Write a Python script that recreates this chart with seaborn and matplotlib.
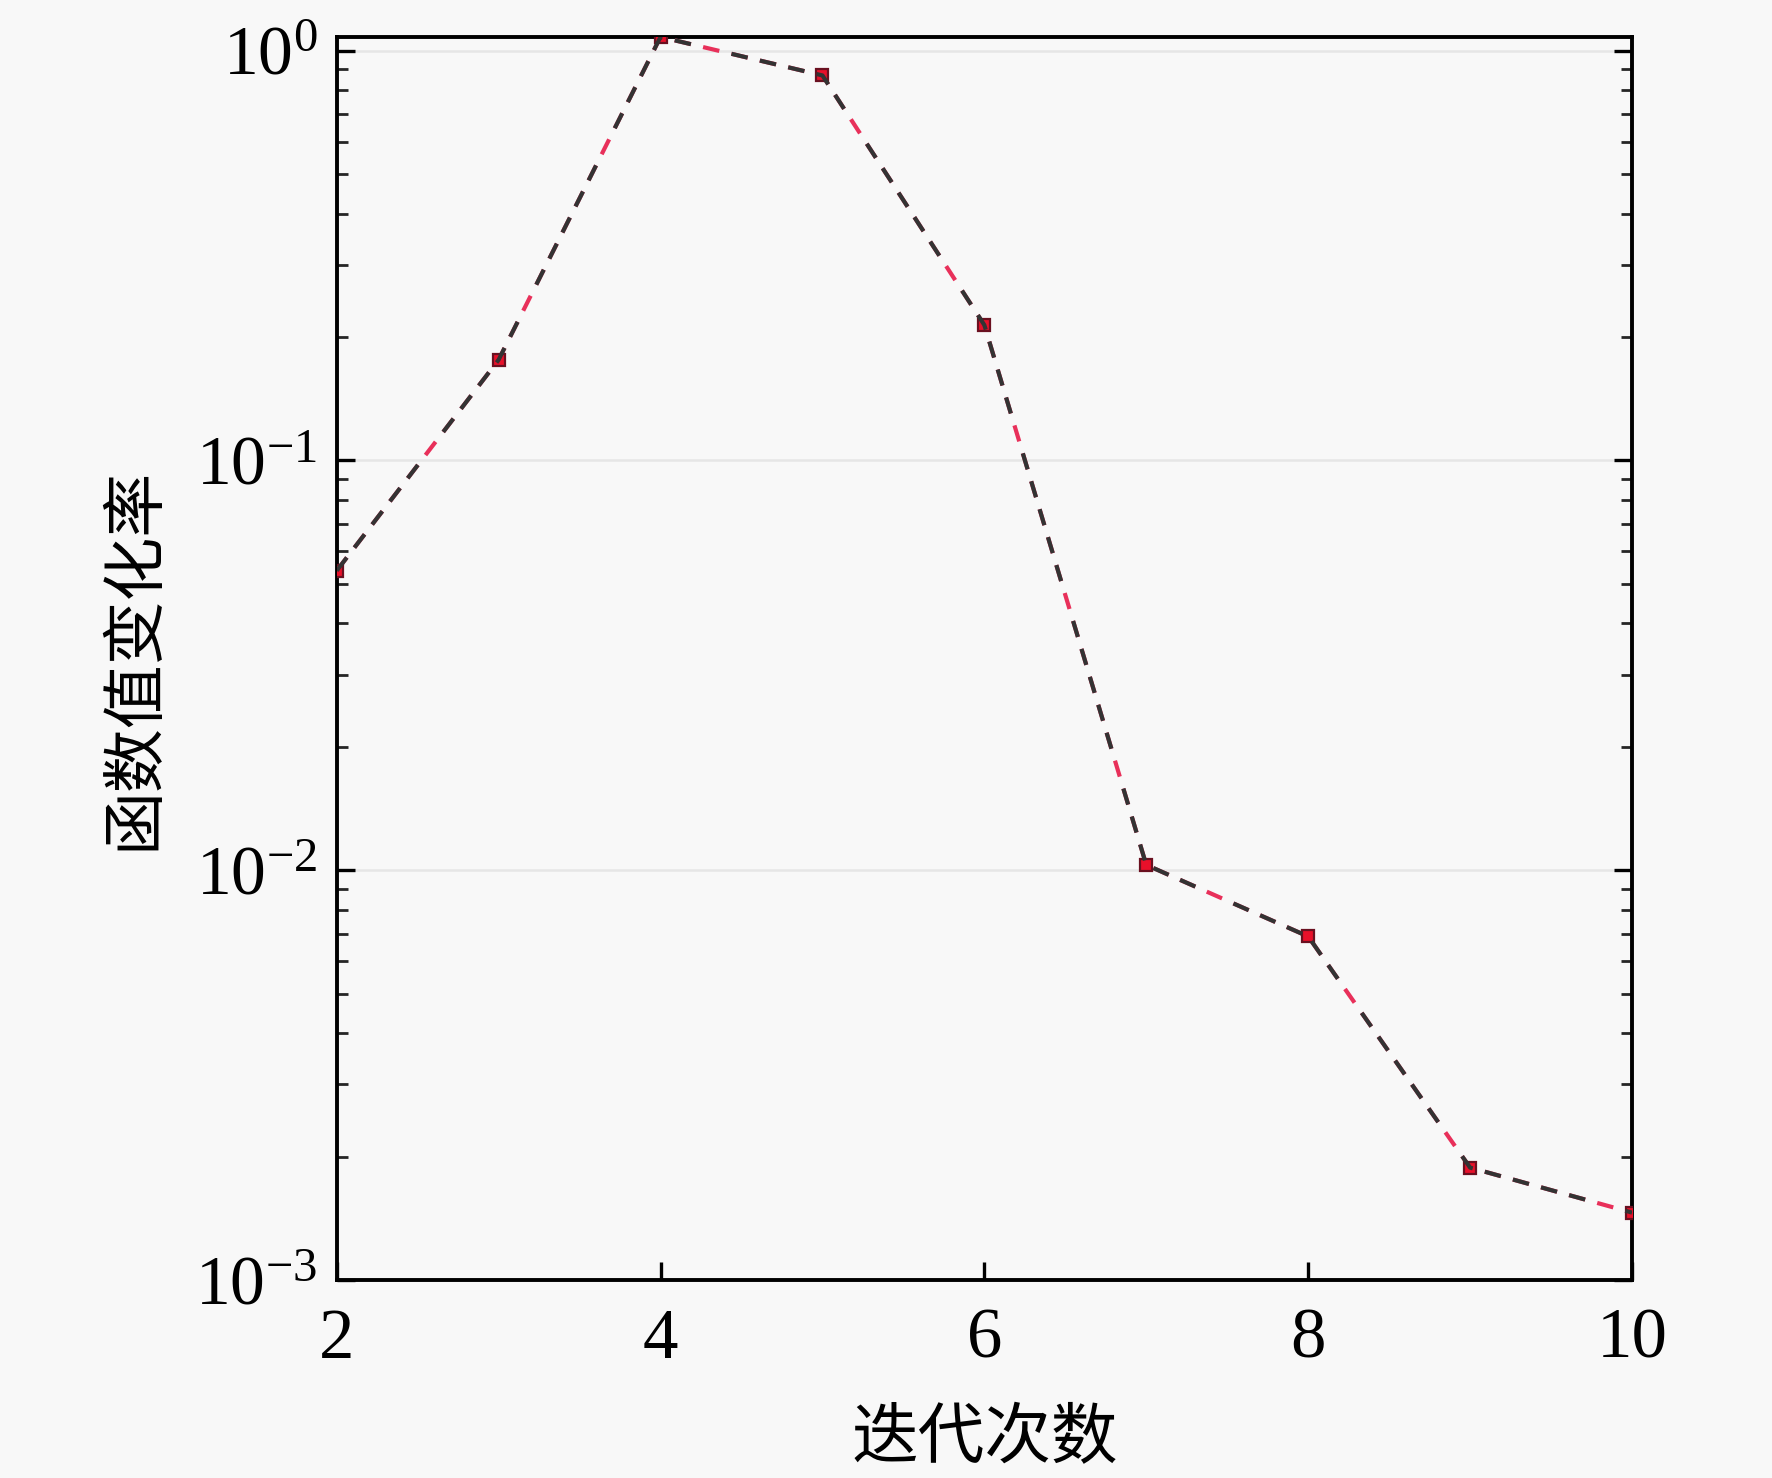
import numpy as np
import pandas as pd
import matplotlib
matplotlib.use("Agg")
import matplotlib.pyplot as plt
import seaborn as sns
from matplotlib.ticker import LogLocator, LogFormatterMathtext, FixedLocator

iterations = [2, 3, 4, 5, 6, 7, 8, 9, 10]
change_rate = [0.0538, 0.176, 1.08, 0.87, 0.214, 0.0103, 0.00689, 0.00188, 0.00146]
x_ticks = [2, 4, 6, 8, 10]
x_label = "迭代次数"
y_label = "函数值变化率"

df = pd.DataFrame({"iter": iterations, "rate": change_rate})

sns.set_theme(style="white")
plt.rcParams['font.family'] = ['Liberation Serif', 'Noto Sans CJK SC', 'DejaVu Sans']
plt.rcParams['mathtext.fontset'] = 'custom'
plt.rcParams['mathtext.rm'] = 'Liberation Serif'
plt.rcParams['mathtext.it'] = 'Liberation Serif:italic'
plt.rcParams['mathtext.bf'] = 'Liberation Serif:bold'

bg = '#f8f8f8'
fig = plt.figure(figsize=(8.86, 7.39), dpi=200, facecolor=bg)
ax = fig.add_axes([0.190, 0.134, 0.731, 0.841])
ax.set_facecolor(bg)

# red dashed underlay, black dashed overlay
sns.lineplot(data=df, x="iter", y="rate", ax=ax, color='#e8305a', lw=1.5,
             marker='s', markersize=4.5, markerfacecolor='#e8102a',
             markeredgecolor='#6a1020', markeredgewidth=0.8, zorder=3)
sns.lineplot(data=df, x="iter", y="rate", ax=ax, color='#333333', lw=1.5, zorder=4)
lines = ax.get_lines()
lines[0].set_dashes([4, 3])
lines[1].set_dashes([4, 3, 4, 3, 4, 3, 4, 3, 4, 10])

ax.set_yscale('log')
ax.set_xlim(2, 10)
ax.set_ylim(1e-3, 1.08)

ax.xaxis.set_major_locator(FixedLocator(x_ticks))
ax.yaxis.set_major_locator(LogLocator(base=10, numticks=10))
ax.yaxis.set_minor_locator(LogLocator(base=10, subs=np.arange(2, 10), numticks=10))
ax.yaxis.set_major_formatter(LogFormatterMathtext())

ax.yaxis.grid(True, which='major', color='#e6e6e6', lw=0.9)
ax.xaxis.grid(False)
ax.set_axisbelow(True)

for s in ax.spines.values():
    s.set_color('black')
    s.set_linewidth(1.4)

ax.tick_params(axis='x', which='major', direction='in', length=6.5, width=1.2,
               bottom=True, top=False, labelsize=25.5, pad=10, colors='black')
ax.tick_params(axis='y', which='major', direction='in', length=6.5, width=1.2,
               left=True, right=True, labelsize=25, pad=7, colors='black')
ax.tick_params(axis='y', which='minor', direction='in', length=4, width=1.0,
               left=True, right=True)
ax.tick_params(axis='x', which='minor', bottom=False, top=False)

ax.set_xlabel(x_label, fontsize=24, family=['Noto Sans CJK SC', 'DejaVu Sans'], labelpad=12, color='black')
ax.set_ylabel(y_label, fontsize=23, family=['Noto Sans CJK SC', 'DejaVu Sans'], labelpad=10, color='black')

fig.savefig("out.png", dpi=200, facecolor=bg)
